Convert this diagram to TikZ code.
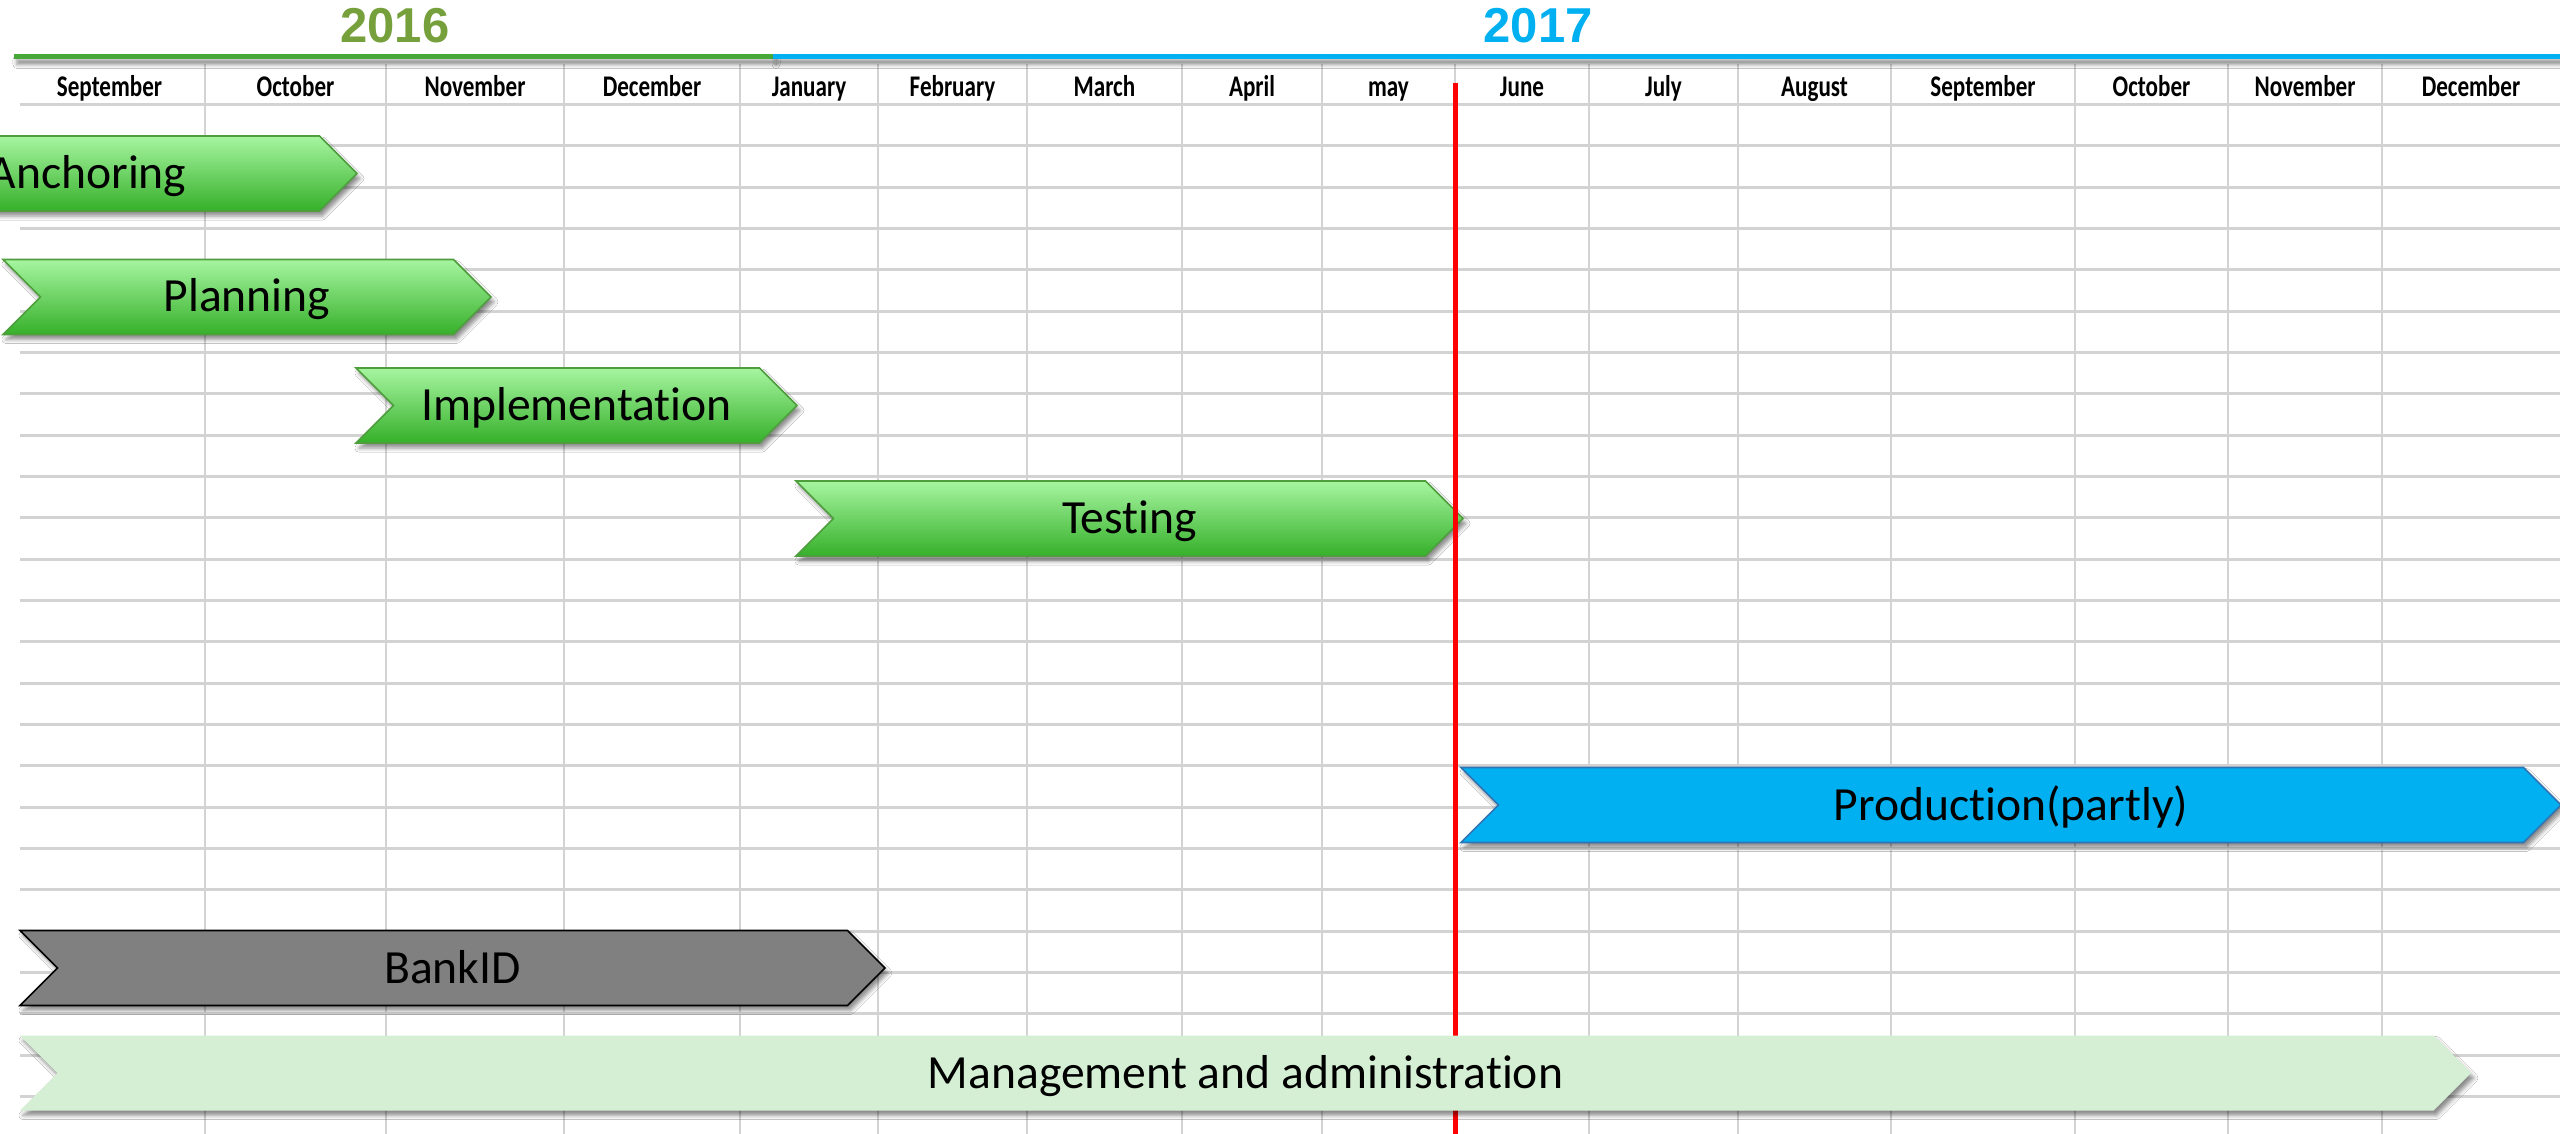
\documentclass[tikz,border=0pt]{standalone}
\usepackage{fontspec}
\setmainfont{Carlito}[Ligatures=NoCommon]
\newfontfamily\monthfont[FakeStretch=0.77,Ligatures=NoCommon]{Carlito}
\newfontfamily\yearfont{Liberation Sans}
\usetikzlibrary{shadows.blur}
\definecolor{gridgray}{HTML}{D3D3D3}
\definecolor{yeargreen}{HTML}{76A03C}
\definecolor{linegreen}{HTML}{47A83A}
\definecolor{skyblue}{HTML}{00B0F0}
\definecolor{chevtop}{HTML}{A6F5A0}
\definecolor{chevbot}{HTML}{36B02A}
\definecolor{chevborder}{HTML}{4E9E3E}
\definecolor{prodborder}{HTML}{2E75B6}
\definecolor{bankgray}{HTML}{808080}
\definecolor{mgmtgreen}{HTML}{D5EFD5}
\tikzset{
  hgrid/.style={draw=gridgray, line width=1.5pt},
  vgrid/.style={draw=gridgray, line width=1pt},
  monthlbl/.style={font=\monthfont\bfseries\fontsize{15pt}{17pt}\selectfont, anchor=base, inner sep=0pt},
  yearlbl/.style={font=\yearfont\bfseries\fontsize{24.5pt}{27pt}\selectfont, anchor=base, inner sep=0pt},
  chevtext/.style={font=\fontsize{23.8pt}{27pt}\selectfont, anchor=base, inner sep=0pt},
  shadowed/.style={blur shadow={shadow xshift=1.5pt, shadow yshift=-2.5pt, shadow blur radius=2pt, shadow opacity=45}},
  greenchev/.style={shadowed, top color=chevtop, bottom color=chevbot, draw=chevborder, line width=0.8pt, line join=miter},
  prodchev/.style={shadowed, fill=skyblue, draw=prodborder, line width=0.8pt},
  bankchev/.style={shadowed, fill=bankgray, draw=black, line width=0.8pt},
  mgmtchev/.style={shadowed, fill=mgmtgreen},
}
\newcommand\chevron[6]{%
  \path[#5] (#2,#4-37.5) -- (#3-37.5,#4-37.5) -- (#3,#4) -- (#3-37.5,#4+37.5) -- (#2,#4+37.5) -- (#2+37.5,#4) -- cycle;
  \node[chevtext] (#1) at ({(#2+#3)/2},#4+15) {#6};
}
\begin{document}
\begin{tikzpicture}[x=0.5pt, y=-0.5pt]
\useasboundingbox (0,0) rectangle (2560,1134);
\clip (0,0) rectangle (2560,1134);
\fill[white] (0,0) rectangle (2560,1134);
% grid
\foreach \k in {0,...,24}
  \draw[hgrid] (20,{104.5+41.33*\k}) -- (2560,{104.5+41.33*\k});
\foreach \xx in {205,386,564,740,878,1027,1182,1322,1455,1589,1738,1891,2075,2228,2382}
  \draw[vgrid] (\xx,64) -- (\xx,1134);
% year bars
\path[shadowed, fill=linegreen] (14,54.5) rectangle (773,59.5);
\path[shadowed, fill=skyblue] (773,54.5) rectangle (2560,59.5);
\node[yearlbl, text=yeargreen] (y2016) at (395,43) {2016};
\node[yearlbl, text=skyblue] (y2017) at (1538,43) {2017};
% months
\foreach \c/\m/\n in {109.5/September/m1, 295.5/October/m2, 475/November/m3, 652/December/m4,
  809/January/m5, 952.5/February/m6, 1104.5/March/m7, 1252/April/m8, 1388.5/may/m9,
  1522/June/m10, 1663.5/July/m11, 1814.5/August/m12, 1983/September/m13,
  2151.5/October/m14, 2305/November/m15, 2471/December/m16}
  \node[monthlbl] (\n) at (\c,97) {\m};
% chevrons
\chevron{anchoring}{-182}{357}{173.5}{greenchev}{Anchoring}
\chevron{planning}{3}{491}{297}{greenchev}{Planning}
\chevron{implementation}{356}{797}{405.5}{greenchev}{Implementation}
\chevron{testing}{796}{1463}{518.5}{greenchev}{Testing}
\chevron{production}{1461}{2561}{805}{prodchev}{Production(partly)}
\chevron{bankid}{20}{885}{968}{bankchev}{BankID}
% today line
\coordinate (redtop) at (1455.5,83);
\coordinate (redbot) at (1455.5,1134);
\draw[red, line width=2.5pt] (redtop) -- (redbot);
\chevron{management}{20}{2471}{1073}{mgmtchev}{Management and administration}
\end{tikzpicture}
\end{document}
